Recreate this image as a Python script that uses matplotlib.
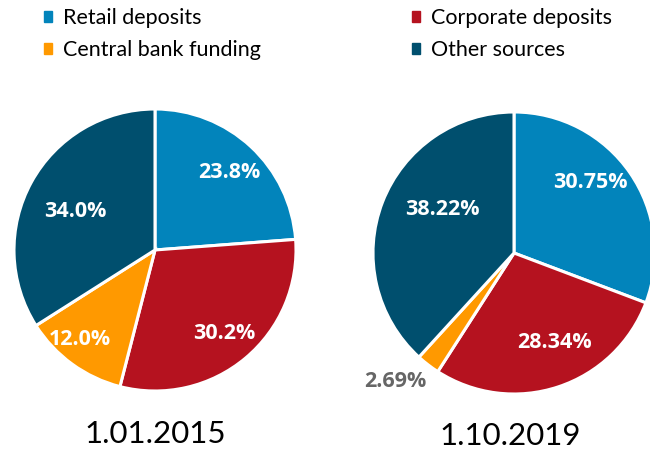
import matplotlib.pyplot as plt
from matplotlib.patches import Patch
import numpy as np

plt.rcParams['font.family'] = ['Lato', 'DejaVu Sans']

categories = ['Retail deposits', 'Corporate deposits', 'Central bank funding', 'Other sources']
colors = ['#0284BB', '#B5121F', '#FF9900', '#004F6E']
share_2015 = [23.8, 30.2, 12.0, 34.0]
share_2019 = [30.75, 28.34, 2.69, 38.22]
labels_2015 = ['23.8%', '30.2%', '12.0%', '34.0%']
labels_2019 = ['30.75%', '28.34%', '2.69%', '38.22%']
dates = ['1.01.2015', '1.10.2019']

fig = plt.figure(figsize=(6.5, 4.5), dpi=100)
ax = fig.add_axes([0, 0, 1, 1])
ax.set_xlim(0, 650)
ax.set_ylim(0, 450)
ax.set_aspect('equal')
ax.axis('off')

R = 141


def draw_pie(values, labels, center, dists, shifts, label_colors):
    wedges, _ = ax.pie(values, colors=colors, startangle=90, counterclock=False,
                       center=center, radius=R,
                       wedgeprops=dict(edgecolor='white', linewidth=2.2))
    ax.set_xlim(0, 650)
    ax.set_ylim(0, 450)
    for w, lab, d, s, c in zip(wedges, labels, dists, shifts, label_colors):
        ang = np.deg2rad((w.theta1 + w.theta2) / 2 + s)
        ax.text(center[0] + d * R * np.cos(ang), center[1] + d * R * np.sin(ang), lab,
                ha='center', va='center', fontsize=15.5, fontweight='bold', color=c,
                family=['Open Sans', 'DejaVu Sans'])


draw_pie(share_2015, labels_2015, (155, 200), [0.76, 0.77, 0.83, 0.63],
         [-1, 0, -4, 3], ['white'] * 4)
draw_pie(share_2019, labels_2019, (514, 197), [0.74, 0.7, 1.24, 0.59],
         [8, 6, -5, -10], ['white', 'white', '#666666', 'white'])

ax.text(155, 16, dates[0], ha='center', va='center', fontsize=22.5)
ax.text(510, 14, dates[1], ha='center', va='center', fontsize=22.5)

handles = [Patch(color=c) for c in colors]
order = [0, 2, 1, 3]
fig.legend([handles[i] for i in order], [categories[i] for i in order],
           loc='upper left', bbox_to_anchor=(0.038, 1.025), ncol=2, frameon=False,
           fontsize=15.5, handlelength=0.38, handleheight=0.38, handletextpad=0.5,
           columnspacing=7.0, labelspacing=0.55)

fig.savefig('out.png', dpi=100)
